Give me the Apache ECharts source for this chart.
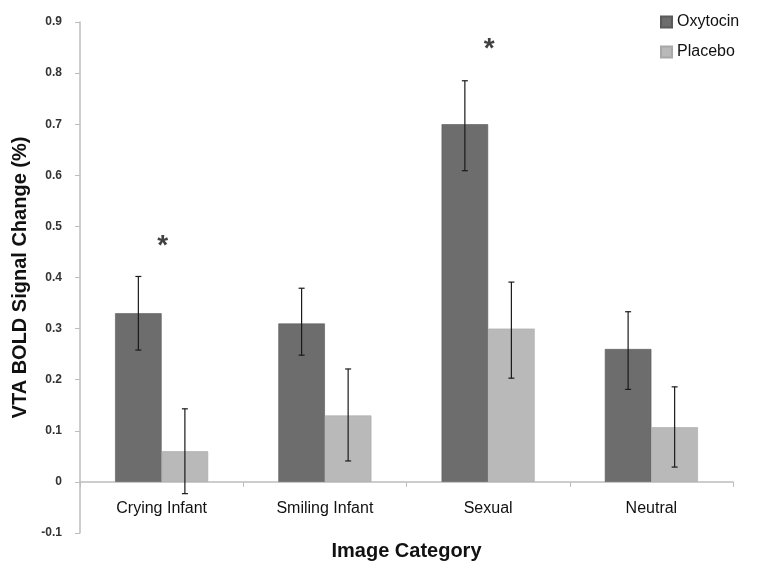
<!DOCTYPE html>
<html>
<head>
<meta charset="utf-8">
<script src="https://cdn.jsdelivr.net/npm/echarts@6/dist/echarts.min.js"></script>
<style>
html, body { margin: 0; padding: 0; background: #fff; }
#chart { width: 763px; height: 574px; }
</style>
</head>
<body>
<div id="chart"></div>
<script>
// data
var categories = ['Crying Infant', 'Smiling Infant', 'Sexual', 'Neutral'];
var oxytocin = [0.33, 0.31, 0.70, 0.26];
var oxyLow = [0.258, 0.248, 0.609, 0.181];
var oxyHigh = [0.402, 0.379, 0.785, 0.333];
var placebo = [0.06, 0.13, 0.30, 0.107];
var plaLow = [-0.023, 0.041, 0.203, 0.029];
var plaHigh = [0.143, 0.221, 0.391, 0.186];
var starPos = [0.475, null, 0.86, null];

var barFrac = 0.285; // bar width as part of category band

function errorSeries(name, low, high, side) {
	var d = [];
	for (var i = 0; i < categories.length; i++) {
		d.push([i, low[i], high[i]]);
	}
	return {
		name: name + ' err',
		type: 'custom',
		z: 10,
		silent: true,
		data: d,
		renderItem: function(params, api) {
			var band = api.size([1, 0])[0];
			var off = side * band * barFrac / 2;
			var lo = api.coord([api.value(0), api.value(1)]);
			var hi = api.coord([api.value(0), api.value(2)]);
			var x = lo[0] + off;
			var cap = 3;
			var st = { stroke: '#1a1a1a', lineWidth: 1.2 };
			return {
				type: 'group',
				children: [
					{ type: 'line', shape: { x1: x, y1: hi[1], x2: x, y2: lo[1] }, style: st },
					{ type: 'line', shape: { x1: x - cap, y1: hi[1], x2: x + cap, y2: hi[1] }, style: st },
					{ type: 'line', shape: { x1: x - cap, y1: lo[1], x2: x + cap, y2: lo[1] }, style: st }
				]
			};
		}
	};
}

var chart = echarts.init(document.getElementById('chart'));
var option = {
	animation: false,
	textStyle: { fontFamily: 'Liberation Sans, Arial, sans-serif' },
	legend: {
		orient: 'vertical',
		left: 655,
		top: 9,
		icon: 'rect',
		itemWidth: 11,
		itemHeight: 11,
		itemGap: 14,
		data: ['Oxytocin', 'Placebo'],
		textStyle: { fontSize: 16, color: '#111' }
	},
	grid: { left: 80, right: 30, top: 22, bottom: 41, outerBoundsMode: 'none', containLabel: false },
	xAxis: {
		type: 'category',
		data: categories,
		name: 'Image Category',
		nameLocation: 'middle',
		nameGap: 8,
		nameTextStyle: { fontSize: 20, fontWeight: 'bold', color: '#111' },
		axisLine: { onZero: true, lineStyle: { color: '#bdbdbd', width: 1.5 } },
		axisTick: { show: true, length: 5, lineStyle: { color: '#bdbdbd' } },
		axisLabel: { fontSize: 16, color: '#111', margin: -32 }
	},
	yAxis: {
		type: 'value',
		min: -0.1,
		max: 0.9,
		interval: 0.1,
		name: 'VTA BOLD Signal Change (%)',
		nameLocation: 'middle',
		nameGap: 50,
		nameTextStyle: { fontSize: 20, fontWeight: 'bold', color: '#111' },
		axisLine: { show: true, lineStyle: { color: '#bdbdbd', width: 1.5 } },
		axisTick: { show: true, length: 5, lineStyle: { color: '#bdbdbd' } },
		splitLine: { show: false },
		axisLabel: {
			fontSize: 12, color: '#333', fontWeight: 'bold', margin: 18,
			formatter: function(v) { return String(Math.round(v * 10) / 10); }
		}
	},
	series: [
		{
			name: 'Oxytocin',
			type: 'bar',
			data: oxytocin,
			barWidth: (barFrac * 100) + '%',
			barGap: '0%',
			itemStyle: { color: '#6d6d6d', borderColor: '#5a5a5a', borderWidth: 0.6 }
		},
		{
			name: 'Placebo',
			type: 'bar',
			data: placebo,
			barWidth: (barFrac * 100) + '%',
			barGap: '0%',
			itemStyle: { color: '#b9b9b9', borderColor: '#a8a8a8', borderWidth: 0.6 }
		},
		errorSeries('Oxytocin', oxyLow, oxyHigh, -1),
		errorSeries('Placebo', plaLow, plaHigh, 1),
		{
			name: 'sig',
			type: 'scatter',
			symbolSize: 0,
			silent: true,
			data: starPos,
			label: {
				show: true,
				position: 'inside',
				formatter: '*',
				fontSize: 28,
				fontWeight: 'bold',
				color: '#111',
				offset: [1, 7]
			}
		}
	]
};
chart.setOption(option);
</script>
</body>
</html>
